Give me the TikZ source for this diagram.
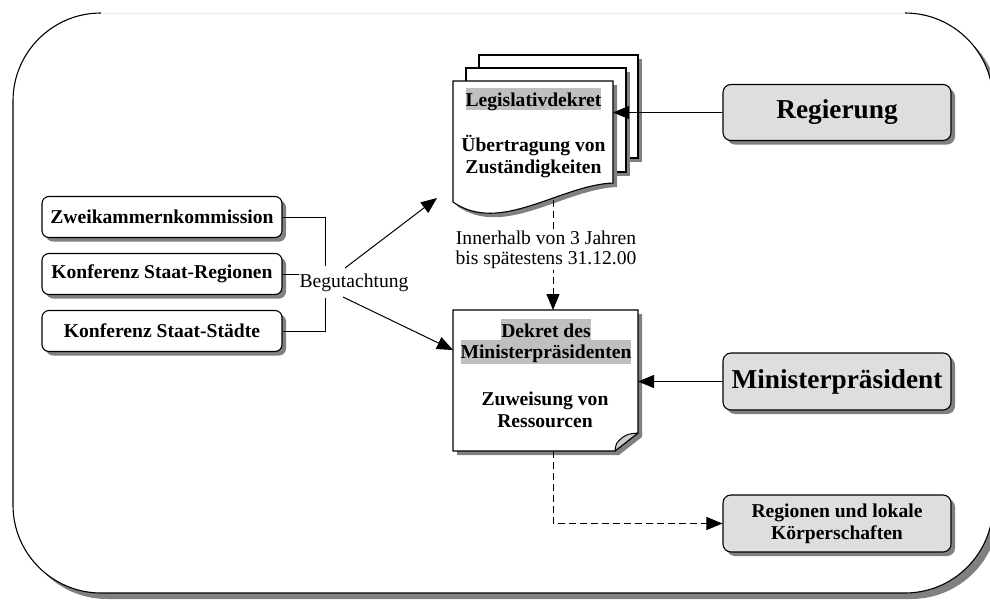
\documentclass[tikz,border=0pt]{standalone}
\usepackage{fontspec}
\setmainfont{Liberation Serif}
\usetikzlibrary{arrows.meta,shadows,calc}
\definecolor{hl}{gray}{0.75}
\definecolor{boxgray}{gray}{0.87}
\definecolor{shade}{gray}{0.5}
\definecolor{foldgray}{gray}{0.8}
\newcommand\myfs{\fontsize{19.6}{21.7}\selectfont}
\newcommand\mybigfs{\fontsize{27.3}{30}\selectfont}
\begin{document}
\begin{tikzpicture}[x=1pt,y=-1pt,
  shad/.style={drop shadow={shadow xshift=4pt,shadow yshift=-4pt,fill=shade,opacity=1}},
  lbox/.style={draw,line width=1.1pt,rounded corners=7pt,fill=white,minimum width=240pt,
    minimum height=41pt,font=\myfs\bfseries,inner sep=0pt,shad},
  gbox/.style={draw,line width=1.1pt,rounded corners=8pt,fill=boxgray,minimum width=228pt,
    minimum height=56pt,inner sep=0pt,align=center,shad},
  hlnode/.style={fill=hl,inner sep=0pt,font=\myfs\bfseries,text height=18.5pt,text depth=3.5pt},
  doc/.style={fill=white,draw,line width=1.1pt,line join=miter,shad},
  arr/.style={-{Triangle[length=16pt,width=13pt]},line width=1pt},
  dsh/.style={dash pattern=on 7pt off 4pt}
]
\useasboundingbox (0,0) rectangle (990,600);
% outer frame
\path[fill=white,rounded corners=88pt,
  drop shadow={shadow xshift=6pt,shadow yshift=-6pt,fill=shade,opacity=1}]
  (13,13) rectangle (993,593);
\draw[line width=1.1pt,rounded corners=88pt] (905,13) -- (993,13) -- (993,593) -- (13,593) -- (13,13) -- (101,13);
\draw[gray!15,line width=1pt] (101,13) -- (905,13);

% left boxes
\node[lbox] (z) at (162,217) {Zweikammernkommission};
\node[lbox] (r) at (162,274) {Konferenz Staat-Regionen};
\node[lbox] (s) at (162,331) {Konferenz Staat-Städte};
\draw[line width=1pt] (z.east) -- ++(43,0) |- (s.east);
\node[fill=white,inner xsep=0pt,inner ysep=7pt,font=\myfs,anchor=base] (beg) at (354,287) {Begutachtung};
\draw[line width=1pt] (r.east) -- (r.east -| beg.west);

% document 1 (multi)
\path[doc] (479,55) rectangle (638,158);
\path[doc] (466,68) rectangle (626,172);
\path[doc] (453,81) -- (613,81) -- (613,183) .. controls (560,185) and (500,235) .. (453,202) -- cycle;
\node[hlnode,anchor=base] (leg) at (533.5,106) {Legislativdekret};
\node[font=\myfs\bfseries,align=center,anchor=base] (uebt) at (533.5,173.5) {Übertragung von\\Zuständigkeiten};
\coordinate (d1e) at (613,112.5);
\coordinate (d1b) at (553,200);
\coordinate (d1l) at (437,198);

% document 2
\path[doc] (453,310) -- (638,310) -- (638,433) -- (615,451) -- (453,451) -- cycle;
\draw[line width=1pt,fill=foldgray,line join=round] (615,451) .. controls (616,443) .. (623,437) .. controls (628,434) .. (638,433) -- cycle;
\node[hlnode,anchor=base] (dk1) at (546,337) {Dekret des};
\node[hlnode,anchor=base,text depth=6pt] (dk2) at (546,358) {Ministerpräsidenten};
\node[font=\myfs\bfseries,align=center,anchor=base] (zuw) at (545,427) {Zuweisung von\\Ressourcen};
\coordinate (d2t) at (553,310);
\coordinate (d2b) at (553,451);
\coordinate (d2e) at (638,381.5);
\coordinate (d2l) at (453,350);

% right boxes
\node[gbox,font=\mybigfs\bfseries] (reg) at (837,112.5) {Regierung};
\node[gbox,font=\mybigfs\bfseries,minimum height=57pt] (mp) at (837,381.5) {Ministerpräsident};
\node[gbox,font=\myfs\bfseries,minimum height=57pt] (rk) at (837,523.5) {Regionen und lokale\\Körperschaften};

% connectors
\coordinate (b1) at (345,268);
\coordinate (b2) at (343,297);
\draw[arr] (b1) -- (d1l);
\draw[arr] (b2) -- (d2l);
\draw[arr] (reg.west) -- (d1e);
\draw[arr] (mp.west) -- (d2e);
\draw[arr,dsh] (d1b) -- (d2t);
\node[fill=white,align=center,inner sep=2pt,anchor=base,font=\fontsize{19.6}{19.5}\selectfont] (lbl) at (546,264) {Innerhalb von 3 Jahren\\bis spätestens 31.12.00};
\draw[arr,dsh] (d2b) |- (rk.west);
\end{tikzpicture}
\end{document}
